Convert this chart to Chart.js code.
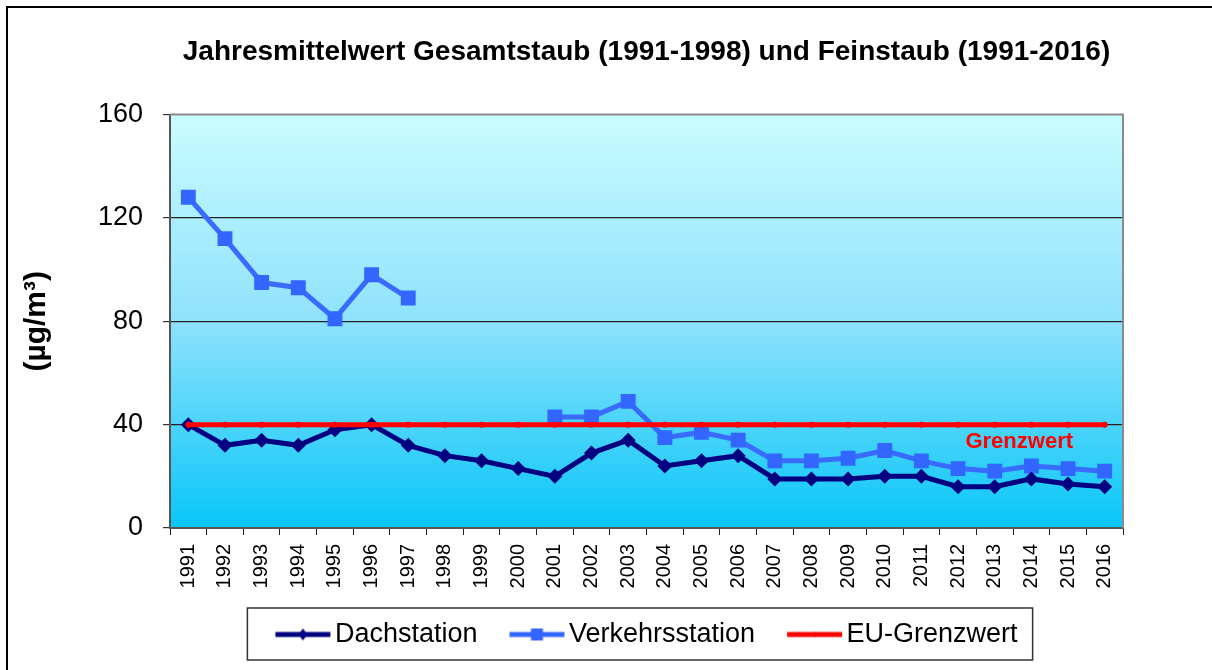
<!DOCTYPE html>
<html>
<head>
<meta charset="utf-8">
<script src="https://cdn.jsdelivr.net/npm/chart.js@4/dist/chart.umd.min.js"></script>
<style>
  html, body { margin: 0; padding: 0; background: #fff; }
  #wrap { width: 1212px; height: 670px; }
</style>
</head>
<body>
<div id="wrap"><canvas id="chart" width="1212" height="670"></canvas></div>
<script>
const years = ['1991','1992','1993','1994','1995','1996','1997','1998','1999','2000','2001','2002','2003',
  '2004','2005','2006','2007','2008','2009','2010','2011','2012','2013','2014','2015','2016'];
const dachstation = [40, 32, 34, 32, 38, 40, 32, 28, 26, 23, 20, 29, 34, 24, 26, 28, 19, 19, 19, 20, 20, 16, 16, 19, 17, 16];
const verkehrsstation = [128, 112, 95, 93, 81, 98, 89, null, null, null, 43, 43, 49, 35, 37, 34, 26, 26, 27, 30, 26, 23, 22, 24, 23, 22];
const grenzwert = [40, 40, 40, 40, 40, 40, 40, 40, 40, 40, 40, 40, 40, 40, 40, 40, 40, 40, 40, 40, 40, 40, 40, 40, 40, 40];
const yTicks = [0, 40, 80, 120, 160];

const FONT = '"Liberation Sans", Arial, sans-serif';

// little line+marker pictures for the legend
function legendIcon(color, marker) {
  const c = document.createElement('canvas');
  c.width = 66; c.height = 20;
  const g = c.getContext('2d');
  g.strokeStyle = color; g.fillStyle = color; g.lineWidth = 5;
  g.beginPath(); g.moveTo(10, 10); g.lineTo(65, 10); g.stroke();
  g.beginPath();
  if (marker === 'diamond') {
    g.moveTo(37.5, 4); g.lineTo(42, 10); g.lineTo(37.5, 16); g.lineTo(33, 10);
  } else if (marker === 'square') {
    g.rect(31.5, 4, 12, 12);
  } else {
    g.arc(37.5, 10, 2.5, 0, Math.PI * 2);
  }
  g.fill();
  return c;
}
const icons = [legendIcon('#000080', 'diamond'), legendIcon('#3366ff', 'square'), legendIcon('#ff0000', 'dot')];

const framePlugin = {
  id: 'frame',
  beforeDraw(chart) {
    const { ctx, chartArea: a } = chart;
    if (!a || !Number.isFinite(a.top) || !Number.isFinite(a.bottom)) return;
    ctx.save();
    const grad = ctx.createLinearGradient(0, a.top, 0, a.bottom);
    grad.addColorStop(0, '#cafcff');
    grad.addColorStop(0.5, '#8ee2fc');
    grad.addColorStop(1, '#08c6f8');
    ctx.fillStyle = grad;
    ctx.fillRect(a.left, a.top, a.right - a.left, a.bottom - a.top);
    ctx.restore();
  },
  afterDraw(chart) {
    const { ctx, chartArea: a } = chart;
    ctx.save();
    // plot border (top / right)
    ctx.strokeStyle = '#8a8a8a';
    ctx.lineWidth = 2;
    ctx.beginPath();
    ctx.moveTo(a.left, a.top); ctx.lineTo(a.right, a.top); ctx.lineTo(a.right, a.bottom);
    ctx.stroke();
    // outer frame
    ctx.strokeStyle = '#000';
    ctx.lineWidth = 2;
    ctx.strokeRect(7, 7, 1300, 800);
    // legend frame
    const hb = chart.legend.legendHitBoxes;
    if (hb && hb.length) {
      const l = Math.min(...hb.map(h => h.left)) - 28;
      const r = Math.max(...hb.map(h => h.left + h.width)) + 15;
      const t = hb[0].top - 13;
      const b = hb[0].top + hb[0].height + 12;
      ctx.strokeStyle = '#333';
      ctx.lineWidth = 1.5;
      ctx.strokeRect(l, t, r - l, b - t);
    }
    // Grenzwert label
    const xs = chart.scales.x, ys = chart.scales.y;
    ctx.fillStyle = '#ff0000';
    ctx.font = 'bold 22px ' + FONT;
    ctx.textAlign = 'right';
    ctx.textBaseline = 'middle';
    ctx.fillText('Grenzwert', xs.getPixelForValue(24) + 5, ys.getPixelForValue(40) + 17);
    ctx.restore();
  }
};

new Chart(document.getElementById('chart'), {
  type: 'line',
  data: {
    labels: years,
    datasets: [
      {
        label: 'Dachstation',
        data: dachstation,
        borderColor: '#000080',
        backgroundColor: '#000080',
        borderWidth: 5,
        pointStyle: 'rectRot',
        pointRadius: 7.5,
        pointBorderWidth: 0,
        tension: 0,
        order: 1
      },
      {
        label: 'Verkehrsstation',
        data: verkehrsstation,
        borderColor: '#3a6bff',
        backgroundColor: '#3366ff',
        borderWidth: 5,
        pointStyle: 'rect',
        pointRadius: 10.5,
        pointBorderWidth: 0,
        tension: 0,
        order: 2
      },
      {
        label: 'EU-Grenzwert',
        data: grenzwert,
        borderColor: '#ff0000',
        backgroundColor: '#ff0000',
        borderWidth: 5,
        pointStyle: 'circle',
        pointRadius: 3,
        pointBorderWidth: 0,
        tension: 0,
        order: 0
      }
    ]
  },
  options: {
    responsive: false,
    animation: false,
    layout: { padding: { left: 0, right: 89, top: 0, bottom: 12 } },
    plugins: {
      tooltip: { enabled: false },
      title: {
        display: true,
        fullSize: false,
        text: 'Jahresmittelwert Gesamtstaub (1991-1998) und Feinstaub (1991-2016)',
        color: '#000',
        font: { family: FONT, size: 28, weight: 'bold' },
        padding: { top: 35, bottom: 46 }
      },
      legend: {
        display: true,
        fullSize: false,
        position: 'bottom',
        labels: {
          color: '#000',
          font: { family: FONT, size: 27 },
          usePointStyle: true,
          pointStyleWidth: 46,
          padding: 32,
          sort: (a, b) => a.datasetIndex - b.datasetIndex,
          generateLabels(chart) {
            const base = Chart.defaults.plugins.legend.labels.generateLabels(chart);
            return base.map(it => Object.assign(it, { pointStyle: icons[it.datasetIndex], lineWidth: 0 }));
          }
        }
      }
    },
    scales: {
      x: {
        offset: true,
        grid: {
          offset: true,
          drawOnChartArea: false,
          drawTicks: true,
          tickLength: 7,
          tickColor: '#222'
        },
        border: { display: true, color: '#555', width: 2 },
        ticks: {
          color: '#000',
          font: { family: FONT, size: 20 },
          minRotation: 90,
          maxRotation: 90,
          autoSkip: false,
          padding: 9
        },
        afterFit(s) {
          s.paddingLeft = 0; s.paddingRight = 0;
          s.height = 61;
        }
      },
      y: {
        min: 0,
        max: 160,
        afterBuildTicks(s) { s.ticks = yTicks.map(v => ({ value: v })); },
        grid: {
          color: c => (c.tick && (c.tick.value === 0 || c.tick.value === 160)) ? 'rgba(0,0,0,0)' : '#222',
          lineWidth: 1.2,
          tickLength: 7,
          tickColor: '#333'
        },
        border: { display: true, color: '#555', width: 2 },
        ticks: {
          color: '#000',
          font: { family: FONT, size: 27 },
          padding: 20
        },
        title: {
          display: true,
          text: '(µg/m³)',
          color: '#000',
          font: { family: FONT, size: 30, weight: 'bold' },
          padding: { top: 19, bottom: 0 }
        },
        afterFit(s) {
          s.width = 170;
          s.paddingTop = 0; s.paddingBottom = 0;
        }
      }
    }
  },
  plugins: [framePlugin]
});
</script>
</body>
</html>
